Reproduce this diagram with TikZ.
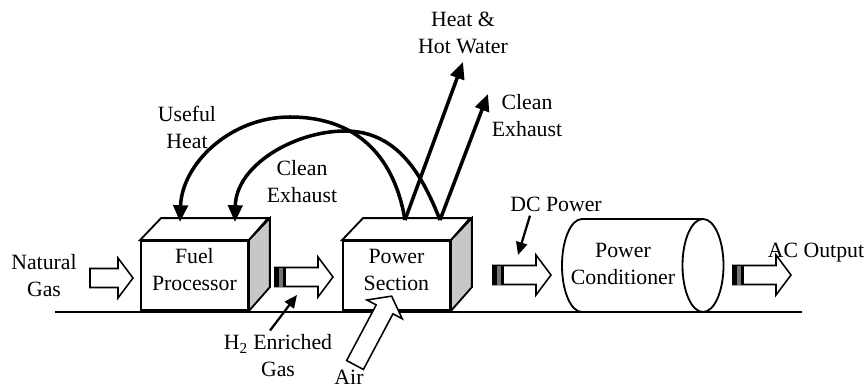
\documentclass[tikz,border=0pt]{standalone}
\usepackage{fontspec}
\setmainfont{Liberation Serif}
\usepackage{tikz}
\usetikzlibrary{arrows.meta}
\definecolor{sidegray}{gray}{0.78}
\definecolor{stripegray}{gray}{0.45}

\begin{document}
\begin{tikzpicture}[x=0.025cm, y=-0.025cm,
	lbl/.style={font=\fontsize{15.5}{19.2}\selectfont, align=center, inner sep=0pt},
	flow/.style={line width=2.5pt, -{Triangle[length=0.42cm, width=0.36cm]}},
	pointer/.style={line width=1.6pt, -{Triangle[length=0.32cm, width=0.28cm]}},
	boxface/.style={draw, line width=1.3pt, fill=white, minimum width=2.675cm, minimum height=1.725cm, anchor=south west, inner sep=0pt}]
\useasboundingbox (0,0) rectangle (867,387);

\draw [line width=1.3pt] (55,312) -- (802,312);

% the two boxes
\foreach \x/\name/\txt in {140/fuelproc/{Fuel\\Processor}, 342/powersec/{Power\\Section}}
	{
		\node [boxface] at (\x,311) (\name) {};
		\draw [line width=1.3pt, fill=white] (\name.north west) -- ++(21,-22) -- ++(107,0) -- (\name.north east) -- cycle;
		\draw [line width=1.3pt, fill=sidegray] (\name.north east) -- ++(21,-22) -- ++(0,69) -- (\name.south east) -- cycle;
		\node [lbl] at ([yshift=0.15cm]\name.center) (\name text) {\txt};
	}

% power conditioner
\draw [line width=1.3pt] (703,219) -- (582,219) arc [start angle=90, end angle=270, x radius=0.5cm, y radius=1.1625cm] -- (703,312);
\draw [line width=1.3pt] (703,265.5) ellipse [x radius=0.5125cm, y radius=1.1625cm];
\node [lbl] at (623,264) (powercond) {Power\\Conditioner};

% block arrows
\foreach \x/\y/\len/\ang in {
		90/278/43/0,
		275/277/58/0,
		493/275/58/0,
		733/275/58/0,
		355/365/78/62
	}
	\draw [line width=1.1pt, fill=white, shift={(\x,\y)}, rotate=\ang] (0,-9.5) -- (\len-15,-9.5) -- (\len-15,-20) -- (\len,0) -- (\len-15,20) -- (\len-15,9.5) -- (0,9.5) -- cycle;

\foreach \x/\y in {275/277, 493/275, 733/275}
	{
		\fill (\x,\y-9.5) rectangle (\x+4,\y+9.5);
		\fill [stripegray] (\x+4,\y-9.5) rectangle (\x+8,\y+9.5);
		\fill (\x+8,\y-9.5) rectangle (\x+11,\y+9.5);
	}

% labels
\node [lbl] at (44,276) (natgas) {Natural\\Gas};
\node [lbl] at (278,356) (h2gas) {H\textsubscript{2} Enriched\\Gas};
\node [lbl] at (349,377) (air) {Air};
\node [lbl] at (556,204) (dcpower) {DC Power};
\node [lbl] at (816,253) (acout) {AC Output};
\node [lbl] at (187,127) (usefulheat) {Useful\\Heat};
\node [lbl] at (302,182) (cleanexh) {Clean\\Exhaust};
\node [lbl] at (463,33) (heatwater) {Heat \&\\Hot Water};
\node [lbl] at (527,116) (cleanexhout) {Clean\\Exhaust};

% flows out of the power section
\coordinate (ps1) at (405,220);
\coordinate (ps2) at (440,220);
\coordinate (fp1) at (180,222);
\coordinate (fp2) at (235,222);
\coordinate (hwtip) at (463,62);
\coordinate (cetip) at (488,94);

\draw [flow] (ps1) .. controls (395,160) and (360,117) .. (290,117) .. controls (230,117) and (182,164) .. (fp1);
\draw [flow] (ps2) .. controls (422,174) and (397,131) .. (345,131) .. controls (295,131) and (236,165) .. (fp2);
\draw [flow] (ps1) -- (hwtip);
\draw [flow] (ps2) -- (cetip);

\coordinate (h2tip) at (297,295);
\coordinate (dctip) at (518,255);
\draw [pointer] ([xshift=-0.2cm, yshift=0.1cm]h2gas.north) -- (h2tip);
\draw [pointer] ([xshift=-0.65cm, yshift=-0.1cm]dcpower.south) -- (dctip);

\end{tikzpicture}
\end{document}
